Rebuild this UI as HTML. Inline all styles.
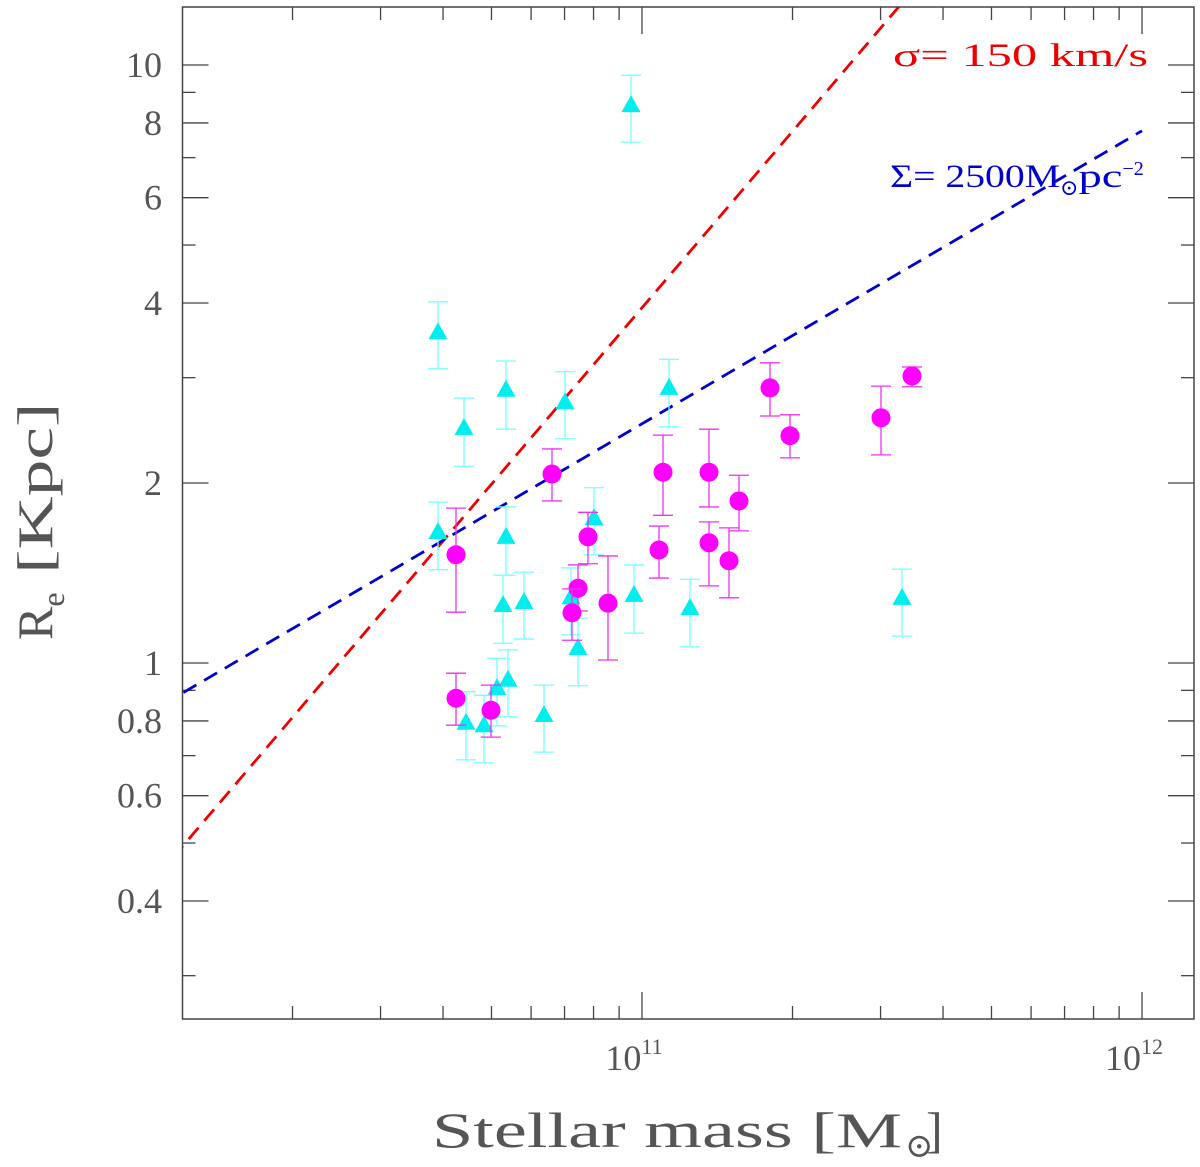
<!DOCTYPE html>
<html><head><meta charset="utf-8"><style>
html,body{margin:0;padding:0;background:#fff;}
svg{display:block;font-family:"Liberation Serif","DejaVu Serif",serif;}
</style></head><body>
<svg id="chart" width="1200" height="1167" viewBox="0 0 1200 1167">
<defs><clipPath id="plotclip"><rect x="182.5" y="7" width="1011.5" height="1012"/></clipPath></defs>
<g id="grid"></g>
<g id="lines" clip-path="url(#plotclip)"></g>
<g id="marks"></g>
<rect x="182.5" y="7" width="1011.5" height="1012" fill="none" stroke="#444" stroke-width="1.5"/>
<text x="893" y="66" font-size="33" fill="#e00" textLength="255" lengthAdjust="spacingAndGlyphs">σ= 150 km/s</text>
<text x="890" y="187" font-size="33" fill="#00c"><tspan textLength="170" lengthAdjust="spacingAndGlyphs">Σ= 2500M</tspan><tspan font-size="22" dy="8">⊙</tspan><tspan dy="-8" textLength="44" lengthAdjust="spacingAndGlyphs">pc</tspan><tspan font-size="20" dy="-12">−2</tspan></text>
<text x="432" y="1147" font-size="50" fill="#555" textLength="470" lengthAdjust="spacingAndGlyphs">Stellar mass [M</text>
<text x="905" y="1157" font-size="34" fill="#555">⊙</text>
<text x="926" y="1147" font-size="50" fill="#555">]</text>
<text transform="translate(52,640) rotate(-90)" font-size="50" fill="#555">R<tspan font-size="32" dy="12">e</tspan><tspan dy="-12" textLength="190" lengthAdjust="spacingAndGlyphs"> [Kpc]</tspan></text>
</svg>
<script>
// magenta circles: log10(M/Msun), log10(Re/kpc), error bounds (log)
const circLogM=[10.628,10.628,10.698,10.82,10.892,10.872,10.86,10.932,11.042,11.034,11.134,11.134,11.194,11.174,11.256,11.296,11.478,11.54];
const circLogR=[0.181,-0.059,-0.079,0.316,0.211,0.125,0.084,0.100,0.319,0.189,0.319,0.201,0.271,0.171,0.460,0.380,0.410,0.480];
const circHi=[0.259,-0.017,-0.037,0.358,0.252,0.164,0.124,0.179,0.381,0.229,0.391,0.236,0.314,0.226,0.502,0.415,0.463,0.495];
const circLo=[0.085,-0.104,-0.124,0.271,0.166,0.087,0.038,0.005,0.247,0.142,0.261,0.129,0.221,0.109,0.413,0.343,0.348,0.462];
// cyan triangles
const triLogM=[10.592,10.644,10.728,10.846,11.054,10.592,10.728,10.722,10.764,10.904,10.858,10.872,10.984,11.096,10.732,10.71,10.648,10.684,10.804,10.978,11.52];
const triLogR=[0.553,0.393,0.457,0.436,0.460,0.219,0.211,0.097,0.102,0.242,0.110,0.025,0.114,0.092,-0.028,-0.042,-0.100,-0.104,-0.087,0.933,0.109];
const triHi=[0.604,0.443,0.505,0.487,0.508,0.269,0.261,0.147,0.152,0.293,0.159,0.075,0.164,0.140,0.022,0.008,-0.048,-0.054,-0.037,0.983,0.157];
const triLo=[0.492,0.329,0.391,0.375,0.395,0.156,0.147,0.033,0.040,0.181,0.047,-0.038,0.050,0.027,-0.090,-0.105,-0.162,-0.167,-0.149,0.871,0.045];
// reference lines: logR = intercept + slope*(logM-11)
const lineNames=["sigma-150-line","surface-density-2500-line"];
const lineSlope=[0.98,0.49];
const lineIntercept=[0.594,0.40];
const lineColors=["#e00","#00c"];
const yTickVals=[0.3,0.4,0.5,0.6,0.7,0.8,0.9,1,2,3,4,5,6,7,8,9,10];
const yTickLabels={0.4:"0.4",0.6:"0.6",0.8:"0.8",1:"1",2:"2",4:"4",6:"6",8:"8",10:"10"};
const xTickVals=[2e10,3e10,4e10,5e10,6e10,7e10,8e10,9e10,1e11,2e11,3e11,4e11,5e11,6e11,7e11,8e11,9e11,1e12];
const xMajor=[11,12];

const NS="http://www.w3.org/2000/svg";
const X=lm=>642+(lm-11)*500;
const Y=lr=>663-lr*598;
function mk(tag,attrs,parent){const e=document.createElementNS(NS,tag);for(const k in attrs)e.setAttribute(k,attrs[k]);parent.appendChild(e);return e;}
const grid=document.getElementById('grid'),lines=document.getElementById('lines'),marks=document.getElementById('marks');
const L=182.5,R=1194,T=7,B=1019;

yTickVals.forEach(v=>{
  const y=Y(Math.log10(v));const lab=yTickLabels[v];const len=lab?26:13;
  const t1=mk('line',{x1:L,x2:L+len,y1:y,y2:y,stroke:'#444','stroke-width':1.3},grid);
  
  
  const t2=mk('line',{x1:R,x2:R-len,y1:y,y2:y,stroke:'#444','stroke-width':1.3},grid);
  
  
  if(lab){const tx=mk('text',{x:162,y:y+12,'font-size':36,fill:'#555','text-anchor':'end'},grid);tx.textContent=lab;
    
    }
});
xTickVals.forEach(v=>{
  const lm=Math.log10(v);const x=X(lm);const major=xMajor.some(m=>Math.abs(m-lm)<1e-6);const len=major?27:13;
  const t1=mk('line',{x1:x,x2:x,y1:B,y2:B-len,stroke:'#444','stroke-width':1.3},grid);
  
  
  const t2=mk('line',{x1:x,x2:x,y1:T,y2:T+len,stroke:'#444','stroke-width':1.3},grid);
  
  
  if(major){const tx=mk('text',{x:x-8,y:1070,'font-size':36,fill:'#555','text-anchor':'middle'},grid);
    tx.innerHTML='10<tspan font-size="22" dy="-16">'+Math.round(lm)+'</tspan>';
    
    }
});
lineSlope.forEach((s,i)=>{
  const a=10.0,b=12.0;
  const ln=mk('line',{x1:X(a),y1:Y(lineIntercept[i]+s*(a-11)),x2:X(b),y2:Y(lineIntercept[i]+s*(b-11)),stroke:lineColors[i],'stroke-width':2.8,'stroke-dasharray':'15 9'},lines);
  
  
});
function errbar(x,yh,yl,col,parent){
  const g=mk('g',{stroke:col,'stroke-width':1.3},parent);
  
  
  mk('line',{x1:x,x2:x,y1:yh,y2:yl},g);
  mk('line',{x1:x-10,x2:x+10,y1:yh,y2:yh},g);
  mk('line',{x1:x-10,x2:x+10,y1:yl,y2:yl},g);
}
triLogM.forEach((m,i)=>{
  const x=X(m),y=Y(triLogR[i]);
  errbar(x,Y(triHi[i]),Y(triLo[i]),'#7ff',marks);
  const p=mk('polygon',{points:`${x-9.5},${y+7} ${x+9.5},${y+7} ${x},${y-10}`,fill:'#0ee'},marks);
  
  
});
circLogM.forEach((m,i)=>{
  const x=X(m),y=Y(circLogR[i]);
  errbar(x,Y(circHi[i]),Y(circLo[i]),'#e3e',marks);
  const c=mk('circle',{cx:x,cy:y,r:9.5,fill:'#f0f'},marks);
  
  
});
</script>
</body></html>
